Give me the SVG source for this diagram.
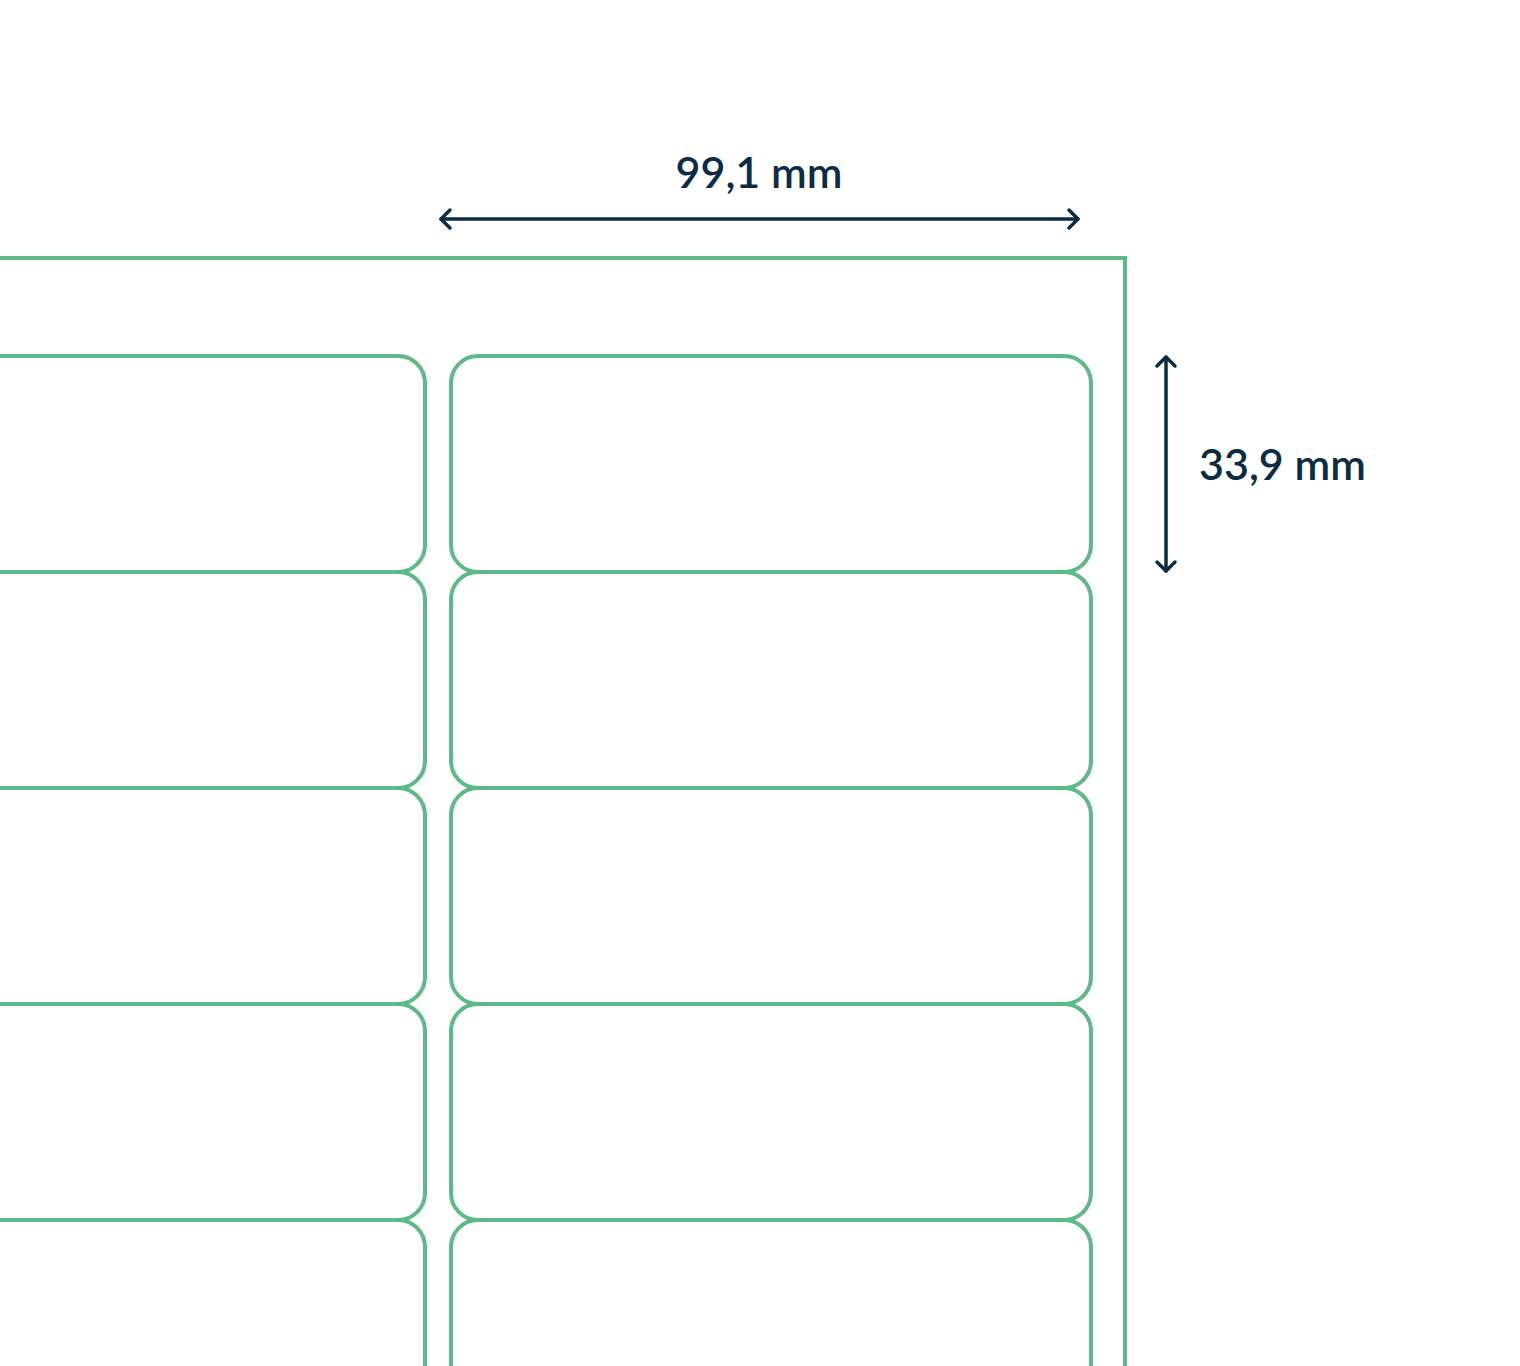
<svg xmlns="http://www.w3.org/2000/svg" width="1520" height="1366" viewBox="0 0 1520 1366">
<style>
.lbl{fill:none;stroke:#5fb986;stroke-width:4}
.dim{fill:none;stroke:#0b2c44;stroke-width:3.5;stroke-linecap:round;stroke-linejoin:round}
.t{font-family:Lato,"Open Sans","Liberation Sans",sans-serif;font-size:43px;font-weight:600;fill:#0b2c44}
</style>
<defs>
<marker id="ah" viewBox="-12 -12 24 24" markerWidth="24" markerHeight="24" markerUnits="userSpaceOnUse" orient="auto-start-reverse" refX="0" refY="0">
<path d="M-9,-9 L0,0 L-9,9" fill="none" stroke="#0b2c44" stroke-width="3.5" stroke-linecap="round" stroke-linejoin="round"/>
</marker>
</defs>
<rect width="1520" height="1366" fill="#fff"/>
<g id="sheet"><path class="lbl" d="M-5,258 H1125 V1370"/></g>
<g id="labels-left">
<rect class="lbl" x="-60" y="356" width="485" height="216" rx="27"/>
<rect class="lbl" x="-60" y="572" width="485" height="216" rx="27"/>
<rect class="lbl" x="-60" y="788" width="485" height="216" rx="27"/>
<rect class="lbl" x="-60" y="1004" width="485" height="216" rx="27"/>
<rect class="lbl" x="-60" y="1220" width="485" height="216" rx="27"/>
</g>
<g id="labels-right">
<rect class="lbl" x="451" y="356" width="640" height="216" rx="27"/>
<rect class="lbl" x="451" y="572" width="640" height="216" rx="27"/>
<rect class="lbl" x="451" y="788" width="640" height="216" rx="27"/>
<rect class="lbl" x="451" y="1004" width="640" height="216" rx="27"/>
<rect class="lbl" x="451" y="1220" width="640" height="216" rx="27"/>
</g>
<g id="connectors">
<line class="dim" x1="441" y1="219" x2="1078" y2="219" marker-start="url(#ah)" marker-end="url(#ah)"/>
<line class="dim" x1="1166" y1="357" x2="1166" y2="571" marker-start="url(#ah)" marker-end="url(#ah)"/>
</g>
<g id="dim-labels">
<text class="t" x="759" y="188" text-anchor="middle">99,1 mm</text>
<text class="t" x="1199" y="480">33,9 mm</text>
</g>
</svg>
